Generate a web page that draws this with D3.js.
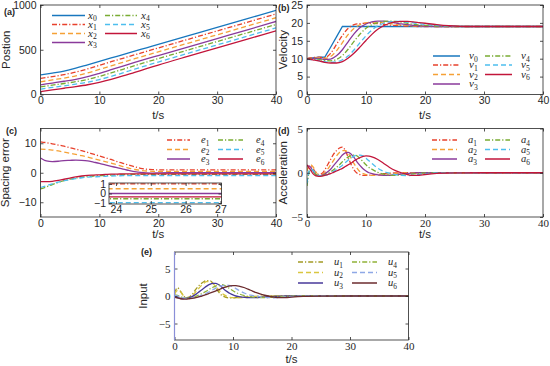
<!DOCTYPE html>
<html><head><meta charset="utf-8">
<script src="https://cdn.jsdelivr.net/npm/d3@7"></script>
<style>body{margin:0;background:#fff}</style>
</head><body>
<svg id="c" width="550" height="366" xmlns="http://www.w3.org/2000/svg"></svg>
<script>
// ---------- DATA ----------
const xTicks = [0, 10, 20, 30, 40];

// (a) position
const tPos = [0, 2, 4, 6, 8, 10, 12, 14, 16, 18, 20, 25, 30, 35, 40];
const x0 = [220, 240, 262, 294, 332, 370, 408, 446, 484, 522, 560, 655, 750, 845, 940];
const x1 = [180, 200, 222, 250, 286, 326, 366, 405, 443, 482, 520, 615, 710, 805, 900];
const x2 = [142, 163, 183, 208, 241, 280, 320, 360, 400, 438, 477, 572, 667, 762, 858];
const x3 = [108, 128, 148, 170, 200, 237, 277, 318, 358, 397, 435, 530, 625, 720, 816];
const x4 = [84, 104, 123, 143, 168, 202, 241, 282, 322, 362, 401, 496, 592, 687, 782];
const x5 = [60, 79, 97, 116, 138, 167, 202, 242, 283, 323, 363, 459, 554, 649, 744];
const x6 = [33, 52, 70, 88, 109, 136, 169, 207, 248, 288, 329, 426, 521, 616, 711];
const posLabels = ["x0", "x1", "x2", "x3", "x4", "x5", "x6"];

// shared time grid for velocity and spacing error
const T = [0,1,2,3,4,5,6,7,8,9,10,11,12,13,14,15,16,17,18,19,20,22,24,26,28,30,35,40];

// (b) velocity
const v0 = [10,10.2,10.4,10.4,13.2,16.1,19,19,19,19,19,19,19,19,19,19,19,19,19,19,19,19,19,19,19,19,19,19];
const v1 = [10,10.3,10.4,10.3,11.5,14,16.5,18.5,19.5,19.8,19.9,19.9,19.8,19.6,19.4,19.3,19.2,19.1,19.05,19,19,19,19,19,19,19,19,19];
const v2 = [10,10.2,10.3,10.1,10.6,12.2,14.5,16.8,18.5,19.5,20,20.2,20.2,20,19.8,19.6,19.4,19.3,19.2,19.1,19.05,19,19,19,19,19,19,19];
const v3 = [10,10.1,10.1,9.8,9.9,10.8,12.5,14.8,17,18.7,19.7,20.3,20.5,20.5,20.3,20,19.7,19.5,19.3,19.2,19.1,19,19,19,19,19,19,19];
const v4 = [10,9.9,9.8,9.5,9.4,9.8,10.9,12.7,14.9,16.9,18.5,19.5,20.1,20.4,20.5,20.4,20.2,19.9,19.6,19.4,19.3,19.1,19,19,19,19,19,19];
const v5 = [9.8,9.7,9.5,9.2,9.0,9.1,9.7,10.8,12.5,14.5,16.4,18,19.2,19.9,20.3,20.4,20.4,20.2,20,19.8,19.6,19.3,19.1,19,19,19,19,19];
const v6 = [10,9.7,9.4,9.0,8.8,8.8,9.2,10.2,11.6,13.3,15.1,16.8,18.2,19.2,19.9,20.3,20.4,20.4,20.3,20.1,19.9,19.5,19.2,19.05,19,19,19,19];
const velLabels = ["v0", "v1", "v2", "v3", "v4", "v5", "v6"];

// (c) spacing error
const e1 = [10.5,10.2,9.8,9.4,9.0,8.5,8.0,7.5,6.9,6.3,5.7,5.1,4.5,3.8,3.2,2.6,2.0,1.5,1.2,1.05,1.0,1.0,1.0,1.0,1.0,1.0,1.0,1.0];
const e2 = [8.0,7.9,7.7,7.4,7.0,6.6,6.2,5.8,5.3,4.8,4.3,3.8,3.3,2.7,2.1,1.6,1.1,0.8,0.6,0.5,0.5,0.5,0.5,0.5,0.5,0.5,0.5,0.5];
const e3 = [5.0,4.0,3.8,3.9,4.1,4.2,4.3,4.2,4.0,3.6,3.2,2.7,2.2,1.7,1.2,0.8,0.4,0.1,-0.05,-0.1,-0.05,0,0,0,0,0,0,0];
const e4 = [-5.5,-4.8,-4.0,-3.3,-2.7,-2.2,-1.8,-1.5,-1.3,-1.1,-1.0,-0.9,-0.8,-0.7,-0.65,-0.6,-0.55,-0.55,-0.55,-0.55,-0.55,-0.55,-0.55,-0.55,-0.55,-0.55,-0.55,-0.55];
const e5 = [-5.0,-4.4,-3.8,-3.2,-2.7,-2.3,-2.0,-1.7,-1.5,-1.4,-1.3,-1.2,-1.1,-1.05,-1.0,-0.95,-0.95,-0.95,-0.95,-0.95,-0.95,-0.95,-0.95,-0.95,-0.95,-0.95,-0.95,-0.95];
const e6 = [-3.0,-3.0,-2.9,-2.6,-2.2,-1.8,-1.4,-1.1,-0.9,-0.8,-0.7,-0.6,-0.5,-0.45,-0.4,-0.35,-0.35,-0.35,-0.35,-0.35,-0.35,-0.35,-0.35,-0.35,-0.35,-0.35,-0.35,-0.35];
const errLabels = ["e1", "e2", "e3", "e4", "e5", "e6"];
const insetXTicks = [24, 25, 26, 27];
const insetYTicks = [-1, 0, 1];

// time grid for acceleration and input
const tA = [0,0.5,1,1.5,2,2.5,3,3.5,4,4.5,5,5.5,6,6.5,7,7.5,8,8.5,9,9.5,10,10.5,11,12,13,14,15,16,17,18,19,20,22,25,30,40];

// (d) acceleration
const a1 = [0.3,0.8,0.5,0.0,-0.2,-0.1,0.3,0.9,1.5,2.1,2.5,2.8,2.9,2.5,1.7,0.9,0.3,-0.05,-0.2,-0.3,-0.3,-0.28,-0.25,-0.18,-0.1,-0.05,-0.02,0,0,0,0,0,0,0,0,0];
const a2 = [0.2,0.9,0.7,0.1,-0.25,-0.2,0.0,0.4,0.9,1.4,1.9,2.3,2.5,2.5,2.2,1.6,1.0,0.5,0.1,-0.1,-0.2,-0.28,-0.3,-0.3,-0.2,-0.12,-0.06,-0.03,0,0,0,0,0,0,0,0];
const a3 = [0.8,0.7,0.2,-0.2,-0.35,-0.3,-0.15,0.1,0.4,0.8,1.2,1.6,2.0,2.25,2.3,2.1,1.7,1.2,0.8,0.45,0.2,0.0,-0.1,-0.25,-0.3,-0.3,-0.22,-0.14,-0.08,-0.04,0,0,0,0,0,0];
const a4 = [-1.5,0.3,0.2,-0.2,-0.35,-0.35,-0.25,-0.1,0.1,0.35,0.6,0.9,1.25,1.55,1.8,1.95,2.0,1.9,1.6,1.25,0.9,0.6,0.4,0.05,-0.15,-0.28,-0.3,-0.28,-0.2,-0.12,-0.06,-0.02,0,0,0,0];
const a5 = [-1.2,0.4,0.3,-0.1,-0.3,-0.35,-0.3,-0.2,-0.05,0.15,0.35,0.6,0.85,1.15,1.45,1.7,1.88,1.98,2.0,1.9,1.65,1.35,1.05,0.5,0.15,-0.05,-0.2,-0.3,-0.32,-0.28,-0.18,-0.1,-0.03,0,0,0];
const a6 = [0.9,0.4,-0.1,-0.35,-0.4,-0.38,-0.3,-0.2,-0.1,0.05,0.2,0.35,0.5,0.7,0.9,1.1,1.35,1.55,1.72,1.85,1.9,1.88,1.8,1.5,1.05,0.6,0.25,0.0,-0.2,-0.3,-0.28,-0.2,-0.08,-0.02,0,0];
const accLabels = ["a1", "a2", "a3", "a4", "a5", "a6"];

// (e) input
const u1 = [0.5,1.5,0.9,0.1,-0.3,-0.2,0.3,1.0,1.7,2.2,2.6,2.8,2.8,2.4,1.6,0.8,0.2,-0.1,-0.3,-0.35,-0.35,-0.3,-0.25,-0.18,-0.1,-0.05,-0.02,0,0,0,0,0,0,0,0,0];
const u2 = [0.3,1.0,0.8,0.1,-0.3,-0.25,0.1,0.6,1.2,1.8,2.3,2.6,2.6,2.3,1.8,1.2,0.6,0.2,-0.1,-0.25,-0.3,-0.32,-0.32,-0.28,-0.2,-0.12,-0.06,-0.03,0,0,0,0,0,0,0,0];
const u3 = [-0.2,-0.3,-0.4,-0.45,-0.4,-0.3,-0.1,0.2,0.6,1.0,1.4,1.8,2.1,2.3,2.3,2.1,1.7,1.2,0.8,0.45,0.2,0.0,-0.1,-0.25,-0.3,-0.3,-0.22,-0.14,-0.08,-0.04,0,0,0,0,0,0];
const u4 = [0.2,0.1,-0.1,-0.3,-0.4,-0.4,-0.3,-0.15,0.1,0.35,0.6,0.9,1.25,1.55,1.8,1.95,2.05,1.95,1.65,1.3,0.95,0.65,0.4,0.05,-0.15,-0.28,-0.3,-0.28,-0.2,-0.12,-0.06,-0.02,0,0,0,0];
const u5 = [0.1,0.0,-0.2,-0.35,-0.45,-0.45,-0.4,-0.3,-0.1,0.1,0.3,0.55,0.8,1.1,1.4,1.65,1.85,1.95,1.98,1.9,1.65,1.35,1.05,0.5,0.15,-0.05,-0.2,-0.3,-0.32,-0.28,-0.18,-0.1,-0.03,0,0,0];
const u6 = [-0.2,-0.35,-0.5,-0.55,-0.55,-0.5,-0.45,-0.35,-0.2,-0.05,0.1,0.3,0.5,0.7,0.9,1.1,1.35,1.55,1.72,1.85,1.9,1.88,1.8,1.5,1.05,0.6,0.25,0.0,-0.2,-0.3,-0.28,-0.2,-0.08,-0.02,0,0];
const inLabels = ["u1", "u2", "u3", "u4", "u5", "u6"];

// ---------- STYLE ----------
const vehColors = ["#1877BE", "#E8412C", "#F5A136", "#8A3A9B", "#79AC33", "#4DBEEE", "#C2153A"];
const vehStyles = ["solid", "dashdot", "dash", "solid", "dashdot", "dash", "solid"];
const inColors = ["#A39A24", "#D9C640", "#47399A", "#91B238", "#8EA8E6", "#6B2B2E"];
const dashes = { solid: null, dashdot: "5,2,1.2,2", dash: "5,3" };
const FONT = "'Liberation Sans', Arial, sans-serif";
const MATH = "'Liberation Serif', 'Times New Roman', serif";
const INK = "#262626";

const svg = d3.select("#c");

function legend(o, labels, colors, styles) {
  labels.forEach((lab, i) => {
    const col = i < o.n1 ? 0 : 1;
    const row = col === 0 ? i : i - o.n1;
    const c = o.cols[col];
    const y = o.rows[row];
    svg.append("line").attr("x1", c[0]).attr("x2", c[1]).attr("y1", y).attr("y2", y)
      .attr("stroke", colors[i]).attr("stroke-width", 1.5)
      .attr("stroke-dasharray", dashes[styles[i]]);
    const t = svg.append("text").attr("x", c[2]).attr("y", y + 3)
      .attr("font-family", MATH).attr("font-style", "italic").attr("font-size", o.fs || 11).attr("fill", INK);
    t.append("tspan").text(lab[0]);
    t.append("tspan").attr("dy", 2.5).attr("font-size", (o.fs || 11) * 0.7).attr("font-style", "normal").text(lab.slice(1));
  });
}

function panel(o) {
  const x = d3.scaleLinear().domain(o.xd || [0, 40]).range([o.l, o.r]);
  const y = d3.scaleLinear().domain(o.yd).range([o.b, o.t]);
  const id = "clip_" + o.id;
  svg.append("clipPath").attr("id", id).append("rect")
    .attr("x", o.l).attr("y", o.t).attr("width", o.r - o.l).attr("height", o.b - o.t);
  if (o.bg) svg.append("rect").attr("x", o.l).attr("y", o.t).attr("width", o.r - o.l)
    .attr("height", o.b - o.t).attr("fill", "#fff");
  const lg = svg.append("g").attr("clip-path", `url(#${id})`);
  o.series.forEach((s, i) => {
    const line = d3.line().x((d, j) => x(o.time[j])).y(d => y(d))
      .curve(o.linear && o.linear[i] ? d3.curveLinear : d3.curveMonotoneX);
    lg.append("path").attr("d", line(s)).attr("fill", "none")
      .attr("stroke", o.colors[i]).attr("stroke-width", o.sw || 1.3)
      .attr("stroke-dasharray", dashes[o.styles[i]]);
  });
  const fs = o.fs || 10.5;
  const ax = (gen, tx, ty) => {
    const g = svg.append("g").attr("transform", `translate(${tx},${ty})`).call(gen);
    g.select(".domain").remove();
    g.selectAll("line").attr("stroke", INK).attr("stroke-width", 0.8);
    g.selectAll("text").attr("font-family", o.tickFont || FONT).attr("font-size", fs).attr("fill", INK);
    return g;
  };
  ax(d3.axisBottom(x).tickValues(o.xt || xTicks).tickSizeInner(-3).tickSizeOuter(0).tickPadding(o.padX || 2.5).tickFormat(d3.format("d")), 0, o.b);
  ax(d3.axisLeft(y).tickValues(o.yt).tickSizeInner(-3).tickSizeOuter(0).tickPadding(o.padY || 4).tickFormat(d3.format("d")), o.l, 0);
  ax(d3.axisTop(x).tickValues(o.xt || xTicks).tickSizeInner(-3).tickSizeOuter(0).tickFormat(""), 0, o.t);
  ax(d3.axisRight(y).tickValues(o.yt).tickSizeInner(-3).tickSizeOuter(0).tickFormat(""), o.r, 0);
  svg.append("rect").attr("x", o.l).attr("y", o.t).attr("width", o.r - o.l).attr("height", o.b - o.t)
    .attr("fill", "none").attr("stroke", INK).attr("stroke-width", 0.8);
  if (o.leftColor) svg.append("line").attr("x1", o.l).attr("x2", o.l).attr("y1", o.t).attr("y2", o.b)
    .attr("stroke", o.leftColor).attr("stroke-width", 1.2);
  if (o.ylab) svg.append("text").attr("transform", `translate(${o.ylx},${(o.t + o.b) / 2}) rotate(-90)`)
    .attr("text-anchor", "middle").attr("font-family", FONT).attr("font-size", 11.5).attr("fill", INK).text(o.ylab);
  if (o.xlab) svg.append("text").attr("x", (o.l + o.r) / 2).attr("y", o.xly)
    .attr("text-anchor", "middle").attr("font-family", FONT).attr("font-size", 11.5).attr("fill", INK).text(o.xlab);
  if (o.tag) svg.append("text").attr("x", o.tag[0]).attr("y", o.tag[1])
    .attr("font-family", FONT).attr("font-weight", "bold").attr("font-size", 9).attr("fill", INK).text(o.tag[2]);
}

// (a)
panel({ id: "a", l: 40.5, r: 276, t: 5, b: 94.5, yd: [0, 1000], yt: [0, 500, 1000],
  time: tPos, series: [x0, x1, x2, x3, x4, x5, x6], colors: vehColors, styles: vehStyles,
  ylab: "Postion", ylx: 10, xlab: "t/s", xly: 119, tag: [4, 15, "(a)"] });
legend({ n1: 4, cols: [[52, 85, 88], [105, 137, 141]], rows: [15.5, 24.5, 33.5, 42.5] }, posLabels, vehColors, vehStyles);

// (b)
panel({ id: "b", l: 307, r: 543, t: 5, b: 94.5, yd: [0, 25], yt: [0, 5, 10, 15, 20, 25],
  time: T, series: [v0, v1, v2, v3, v4, v5, v6], colors: vehColors, styles: vehStyles,
  linear: [true], ylab: "Velocity", ylx: 287, xlab: "t/s", xly: 119, tag: [278, 11, "(b)"] });
legend({ n1: 4, cols: [[433, 460, 469], [485, 512, 521]], rows: [56, 65, 74.5, 84] }, velLabels, vehColors, vehStyles);

// (c)
panel({ id: "c", l: 40.5, r: 276, t: 128.5, b: 217, yd: [-15, 15], yt: [-10, 0, 10],
  time: T, series: [e1, e2, e3, e4, e5, e6], colors: vehColors.slice(1), styles: vehStyles.slice(1),
  ylab: "Spacing error", ylx: 9, xlab: "t/s", xly: 237.5, tag: [6, 134, "(c)"] });
legend({ n1: 3, cols: [[167, 190, 201], [218, 243, 256]], rows: [140, 149.5, 159], fs: 10.5 }, errLabels, vehColors.slice(1), vehStyles.slice(1));
// inset
panel({ id: "ci", l: 109, r: 221.5, t: 183, b: 204, xd: [23.8, 27.03], yd: [-1.1, 1.1], xt: insetXTicks, yt: insetYTicks,
  time: T, series: [e1, e2, e3, e4, e5, e6], colors: vehColors.slice(1), styles: vehStyles.slice(1),
  bg: true, padX: 2, padY: 3, sw: 1.3 });

// (d)
panel({ id: "d", l: 307, r: 543, t: 128.5, b: 217, yd: [-5, 5], yt: [-5, 0, 5],
  time: tA, series: [a1, a2, a3, a4, a5, a6], colors: vehColors.slice(1), styles: vehStyles.slice(1),
  tickFont: MATH, fs: 11,
  ylab: "Acceleration", ylx: 287, xlab: "t/s", xly: 237.5, tag: [278, 134, "(d)"] });
legend({ n1: 3, cols: [[432, 457, 468], [485, 510, 521]], rows: [140, 149.5, 159], fs: 10.5 }, accLabels, vehColors.slice(1), vehStyles.slice(1));

// (e)
panel({ id: "e", l: 174.5, r: 408.5, t: 252, b: 340, yd: [-8, 8], yt: [-5, 0, 5],
  time: tA, series: [u1, u2, u3, u4, u5, u6], colors: inColors, styles: vehStyles.slice(1),
  tickFont: MATH, fs: 11,
  leftColor: "#8A8FD8", ylab: "Input", ylx: 147, xlab: "t/s", xly: 363, tag: [141, 255, "(e)"] });
legend({ n1: 3, cols: [[298, 323, 334], [352, 377, 388]], rows: [262, 272.5, 283], fs: 10.5 }, inLabels, inColors, vehStyles.slice(1));
</script>
</body></html>
